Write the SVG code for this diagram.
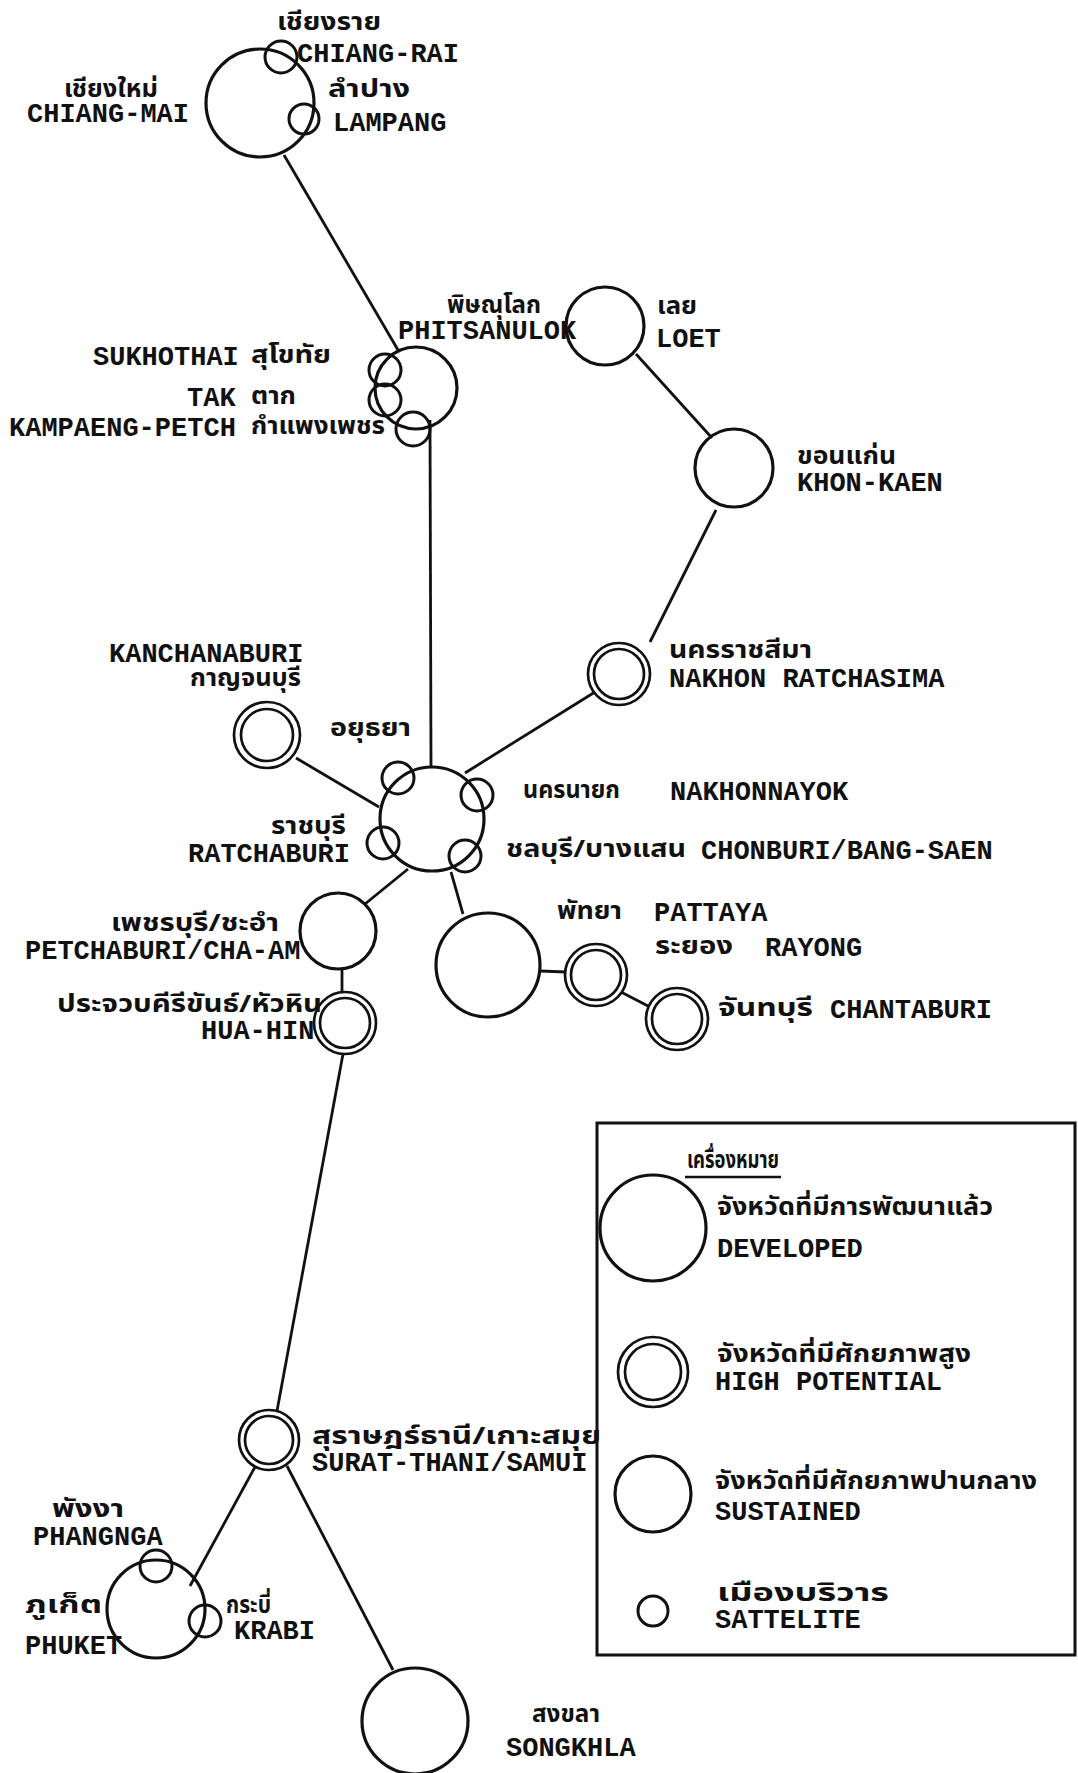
<svg xmlns="http://www.w3.org/2000/svg" width="1078" height="1773" viewBox="0 0 1078 1773">
<style>
.c{fill:none;stroke:#111;stroke-width:3.2}
.s{fill:none;stroke:#111;stroke-width:3}
.d{fill:none;stroke:#111;stroke-width:2.7}
.ln{stroke:#111;stroke-width:2.8;fill:none}
.e{font-family:"Liberation Mono","DejaVu Sans Mono",monospace;font-size:27px;font-weight:bold;fill:#111}
.t{font-family:"Noto Sans Thai","Loma","Garuda","Norasi","TlwgTypewriter","DejaVu Sans","Noto Sans",sans-serif;font-size:24px;font-weight:bold;fill:#111}
</style>
<rect width="1078" height="1773" fill="#fff"/>
<g id="connectors">
<line class="ln" x1="284" y1="155" x2="398" y2="350"/>
<line class="ln" x1="430" y1="420" x2="431" y2="768"/>
<line class="ln" x1="636" y1="354" x2="712" y2="438"/>
<line class="ln" x1="716" y1="510" x2="650" y2="642"/>
<line class="ln" x1="595" y1="692" x2="465" y2="773"/>
<line class="ln" x1="296" y1="758" x2="379" y2="807"/>
<line class="ln" x1="408" y1="869" x2="365" y2="904"/>
<line class="ln" x1="451" y1="872" x2="463" y2="914"/>
<line class="ln" x1="540" y1="971" x2="566" y2="972"/>
<line class="ln" x1="621" y1="992" x2="648" y2="1006"/>
<line class="ln" x1="342" y1="969" x2="342" y2="992"/>
<line class="ln" x1="343" y1="1054" x2="277" y2="1411"/>
<line class="ln" x1="255" y1="1467" x2="190" y2="1586"/>
<line class="ln" x1="287" y1="1466" x2="393" y2="1670"/>
</g>
<g id="chiang-mai">
<circle class="c" cx="260" cy="103" r="54"/>
<text class="t" x="64" y="97" textLength="94" lengthAdjust="spacingAndGlyphs">เชียงใหม่</text>
<text class="e" x="27" y="122">CHIANG-MAI</text>
</g>
<g id="chiang-rai">
<circle class="s" cx="281" cy="57" r="16"/>
<text class="t" x="277" y="30" textLength="104" lengthAdjust="spacingAndGlyphs">เชียงราย</text>
<text class="e" x="297" y="62">CHIANG-RAI</text>
</g>
<g id="lampang">
<circle class="s" cx="304" cy="119" r="15"/>
<text class="t" x="328" y="97" textLength="82" lengthAdjust="spacingAndGlyphs">ลำปาง</text>
<text class="e" x="333" y="131">LAMPANG</text>
</g>
<g id="phitsanulok">
<circle class="c" cx="416" cy="388" r="41"/>
<text class="t" x="447" y="313" textLength="94" lengthAdjust="spacingAndGlyphs">พิษณุโลก</text>
<text class="e" x="398" y="339">PHITSANULOK</text>
</g>
<g id="sukhothai">
<circle class="s" cx="385" cy="370" r="16"/>
<text class="e" x="93" y="365">SUKHOTHAI</text>
<text class="t" x="251" y="363" textLength="80" lengthAdjust="spacingAndGlyphs">สุโขทัย</text>
</g>
<g id="tak">
<circle class="s" cx="385" cy="400" r="16"/>
<text class="e" x="187" y="406">TAK</text>
<text class="t" x="251" y="404" textLength="45" lengthAdjust="spacingAndGlyphs">ตาก</text>
</g>
<g id="kampaeng-petch">
<circle class="s" cx="413" cy="429" r="17"/>
<text class="e" x="9" y="436">KAMPAENG-PETCH</text>
<text class="t" x="251" y="434" textLength="134" lengthAdjust="spacingAndGlyphs">กำแพงเพชร</text>
</g>
<g id="loet">
<circle class="c" cx="605" cy="326" r="39"/>
<text class="t" x="657" y="314" textLength="40" lengthAdjust="spacingAndGlyphs">เลย</text>
<text class="e" x="656" y="347">LOET</text>
</g>
<g id="khon-kaen">
<circle class="c" cx="734" cy="468" r="39"/>
<text class="t" x="797" y="464" textLength="99" lengthAdjust="spacingAndGlyphs">ขอนแก่น</text>
<text class="e" x="797" y="491">KHON-KAEN</text>
</g>
<g id="nakhon-ratchasima">
<circle class="d" cx="619" cy="674" r="31"/>
<circle class="d" cx="619" cy="674" r="25"/>
<text class="t" x="669" y="658" textLength="143" lengthAdjust="spacingAndGlyphs">นครราชสีมา</text>
<text class="e" x="669" y="687">NAKHON RATCHASIMA</text>
</g>
<g id="kanchanaburi">
<circle class="d" cx="267" cy="735" r="33"/>
<circle class="d" cx="267" cy="735" r="26"/>
<text class="e" x="109" y="662">KANCHANABURI</text>
<text class="t" x="190" y="686" textLength="111" lengthAdjust="spacingAndGlyphs">กาญจนบุรี</text>
</g>
<g id="bangkok">
<circle class="c" cx="432" cy="819" r="52"/>
</g>
<g id="ayutthaya">
<circle class="s" cx="398" cy="778" r="16"/>
<text class="t" x="330" y="736" textLength="81" lengthAdjust="spacingAndGlyphs">อยุธยา</text>
</g>
<g id="nakhonnayok">
<circle class="s" cx="477" cy="795" r="16"/>
<text class="t" x="523" y="798" textLength="97" lengthAdjust="spacingAndGlyphs">นครนายก</text>
<text class="e" x="670" y="800">NAKHONNAYOK</text>
</g>
<g id="ratchaburi">
<circle class="s" cx="383" cy="843" r="16"/>
<text class="t" x="271" y="834" textLength="75" lengthAdjust="spacingAndGlyphs">ราชบุรี</text>
<text class="e" x="188" y="862">RATCHABURI</text>
</g>
<g id="chonburi">
<circle class="s" cx="465" cy="856" r="16"/>
<text class="t" x="506" y="857" textLength="180" lengthAdjust="spacingAndGlyphs">ชลบุรี/บางแสน</text>
<text class="e" x="701" y="859">CHONBURI/BANG-SAEN</text>
</g>
<g id="petchaburi">
<circle class="c" cx="338" cy="931" r="38"/>
<text class="t" x="111" y="931" textLength="168" lengthAdjust="spacingAndGlyphs">เพชรบุรี/ชะอำ</text>
<text class="e" x="25" y="959">PETCHABURI/CHA-AM</text>
</g>
<g id="hua-hin">
<circle class="d" cx="345" cy="1023" r="31"/>
<circle class="d" cx="345" cy="1023" r="25"/>
<text class="t" x="57" y="1012" textLength="265" lengthAdjust="spacingAndGlyphs">ประจวบคีรีขันธ์/หัวหิน</text>
<text class="e" x="201" y="1039">HUA-HIN</text>
</g>
<g id="pattaya">
<circle class="c" cx="488" cy="965" r="52"/>
<text class="t" x="557" y="919" textLength="65" lengthAdjust="spacingAndGlyphs">พัทยา</text>
<text class="e" x="654" y="921">PATTAYA</text>
</g>
<g id="rayong">
<circle class="d" cx="596" cy="975" r="31"/>
<circle class="d" cx="596" cy="975" r="25"/>
<text class="t" x="655" y="954" textLength="78" lengthAdjust="spacingAndGlyphs">ระยอง</text>
<text class="e" x="765" y="956">RAYONG</text>
</g>
<g id="chantaburi">
<circle class="d" cx="677" cy="1019" r="31"/>
<circle class="d" cx="677" cy="1019" r="25"/>
<text class="t" x="718" y="1016" textLength="95" lengthAdjust="spacingAndGlyphs">จันทบุรี</text>
<text class="e" x="830" y="1018">CHANTABURI</text>
</g>
<g id="surat-thani">
<circle class="d" cx="269" cy="1440" r="30"/>
<circle class="d" cx="269" cy="1440" r="24"/>
<text class="t" x="312" y="1444" textLength="289" lengthAdjust="spacingAndGlyphs">สุราษฎร์ธานี/เกาะสมุย</text>
<text class="e" x="312" y="1471">SURAT-THANI/SAMUI</text>
</g>
<g id="phuket">
<circle class="c" cx="156" cy="1609" r="49"/>
<text class="t" x="25" y="1613" textLength="77" lengthAdjust="spacingAndGlyphs">ภูเก็ต</text>
<text class="e" x="25" y="1654">PHUKET</text>
</g>
<g id="phangnga">
<circle class="s" cx="156" cy="1566" r="16"/>
<text class="t" x="52" y="1517" textLength="72" lengthAdjust="spacingAndGlyphs">พังงา</text>
<text class="e" x="33" y="1545">PHANGNGA</text>
</g>
<g id="krabi">
<circle class="s" cx="205" cy="1621" r="16"/>
<text class="t" x="226" y="1613" textLength="45" lengthAdjust="spacingAndGlyphs">กระบี่</text>
<text class="e" x="234" y="1639">KRABI</text>
</g>
<g id="songkhla">
<circle class="c" cx="415" cy="1721" r="53"/>
<text class="t" x="532" y="1722" textLength="68" lengthAdjust="spacingAndGlyphs">สงขลา</text>
<text class="e" x="506" y="1756">SONGKHLA</text>
</g>
<g id="legend">
<rect x="597" y="1123" width="478" height="532" fill="none" stroke="#111" stroke-width="3"/>
<text class="t" x="687" y="1168" textLength="92" lengthAdjust="spacingAndGlyphs">เครื่องหมาย</text>
<line x1="685" y1="1177" x2="781" y2="1177" stroke="#111" stroke-width="2.5"/>
<circle class="c" cx="653" cy="1228" r="53"/>
<text class="t" x="717" y="1215" textLength="276" lengthAdjust="spacingAndGlyphs">จังหวัดที่มีการพัฒนาแล้ว</text>
<text class="e" x="717" y="1257">DEVELOPED</text>
<circle class="d" cx="653" cy="1372" r="35"/>
<circle class="d" cx="653" cy="1372" r="28"/>
<text class="t" x="717" y="1362" textLength="254" lengthAdjust="spacingAndGlyphs">จังหวัดที่มีศักยภาพสูง</text>
<text class="e" x="715" y="1390">HIGH POTENTIAL</text>
<circle class="c" cx="653" cy="1494" r="38"/>
<text class="t" x="715" y="1489" textLength="322" lengthAdjust="spacingAndGlyphs">จังหวัดที่มีศักยภาพปานกลาง</text>
<text class="e" x="715" y="1520">SUSTAINED</text>
<circle class="s" cx="653" cy="1611" r="15"/>
<text class="t" x="717" y="1601" textLength="172" lengthAdjust="spacingAndGlyphs">เมืองบริวาร</text>
<text class="e" x="715" y="1628">SATTELITE</text>
</g>
</svg>
